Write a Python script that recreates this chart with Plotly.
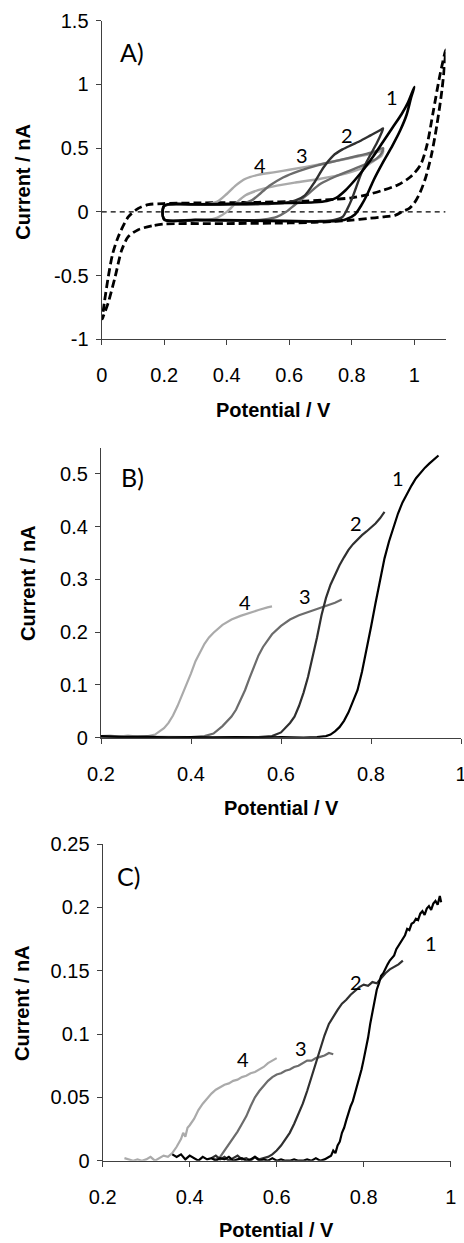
import plotly.graph_objects as go

W, H = 464, 1243

# ---------------- Panel A data (cyclic voltammograms) ----------------
# background CV (dashed)
bgA_x = [0.20, 0.16, 0.117, 0.085, 0.064, 0.043, 0.02, 0.005, 0.002,
         0.008, 0.021, 0.035, 0.053, 0.085, 0.117, 0.149, 0.197, 0.30, 0.50, 0.65, 0.74,
         0.80, 0.85, 0.90, 0.95, 0.99, 1.02, 1.04, 1.06, 1.08, 1.095, 1.10,
         1.098, 1.088, 1.072, 1.055, 1.035, 1.018, 1.00, 0.985, 0.96, 0.94, 0.90,
         0.85, 0.80, 0.74, 0.68, 0.60, 0.40, 0.20]
bgA_y = [-0.095, -0.11, -0.14, -0.195, -0.30, -0.51, -0.72, -0.82, -0.84,
         -0.72, -0.51, -0.33, -0.195, -0.04, 0.027, 0.057, 0.065, 0.07, 0.075, 0.085, 0.098,
         0.11, 0.135, 0.17, 0.215, 0.28, 0.37, 0.52, 0.78, 1.05, 1.22, 1.27,
         1.19, 0.95, 0.68, 0.45, 0.26, 0.15, 0.07, 0.03, 0.0, -0.025, -0.04,
         -0.052, -0.065, -0.076, -0.082, -0.087, -0.092, -0.095]
zeroA_x = [0.0, 1.1]
zeroA_y = [0.0, 0.0]

# loop 1 (black)
cv1_x = [0.20, 0.30, 0.45, 0.60, 0.68, 0.72, 0.75, 0.78, 0.81, 0.84, 0.87, 0.90, 0.93, 0.96, 0.98, 1.00,
         0.99, 0.975, 0.955, 0.93, 0.90, 0.87, 0.85, 0.83, 0.81, 0.78, 0.75, 0.70, 0.60, 0.45, 0.30, 0.20, 0.20]
cv1_y = [0.05, 0.06, 0.065, 0.07, 0.075, 0.085, 0.11, 0.17, 0.25, 0.34, 0.44, 0.55, 0.66, 0.77, 0.86, 0.98,
         0.90, 0.76, 0.64, 0.52, 0.39, 0.25, 0.14, 0.05, -0.02, -0.06, -0.072, -0.076, -0.074, -0.068, -0.064, -0.06, 0.05]
# loop 2 (dark grey)
cv2_x = [0.20, 0.35, 0.50, 0.58, 0.62, 0.65, 0.68, 0.71, 0.74, 0.77, 0.80, 0.83, 0.86, 0.89, 0.90,
         0.895, 0.88, 0.86, 0.845, 0.83, 0.815, 0.80, 0.785, 0.77, 0.74, 0.70, 0.60, 0.45, 0.30, 0.20, 0.20]
cv2_y = [0.045, 0.055, 0.06, 0.07, 0.09, 0.13, 0.23, 0.35, 0.44, 0.49, 0.525, 0.56, 0.60, 0.64, 0.655,
         0.62, 0.54, 0.45, 0.38, 0.30, 0.20, 0.10, 0.02, -0.04, -0.065, -0.072, -0.07, -0.066, -0.062, -0.058, 0.045]
# loop 3 (grey)
cv3_x = [0.20, 0.30, 0.40, 0.45, 0.48, 0.51, 0.54, 0.58, 0.63, 0.69, 0.75, 0.82, 0.87, 0.90,
         0.895, 0.88, 0.85, 0.80, 0.75, 0.70, 0.66, 0.62, 0.59, 0.56, 0.52, 0.45, 0.30, 0.20, 0.20]
cv3_y = [0.045, 0.055, 0.06, 0.065, 0.09, 0.15, 0.21, 0.27, 0.32, 0.365, 0.40, 0.44, 0.47, 0.50,
         0.46, 0.42, 0.38, 0.33, 0.28, 0.22, 0.14, 0.06, 0.0, -0.04, -0.06, -0.068, -0.065, -0.06, 0.045]
# loop 4 (light grey)
cv4_x = [0.20, 0.30, 0.34, 0.37, 0.40, 0.43, 0.46, 0.50, 0.55, 0.60, 0.70, 0.80, 0.87, 0.90,
         0.895, 0.87, 0.84, 0.78, 0.70, 0.62, 0.55, 0.50, 0.46, 0.43, 0.40, 0.37, 0.33, 0.25, 0.20, 0.20]
cv4_y = [0.045, 0.055, 0.06, 0.08, 0.14, 0.21, 0.26, 0.29, 0.31, 0.33, 0.375, 0.425, 0.46, 0.48,
         0.44, 0.40, 0.35, 0.30, 0.26, 0.23, 0.20, 0.17, 0.13, 0.07, 0.0, -0.045, -0.065, -0.07, -0.065, 0.045]

# ---------------- Panel B data ----------------
lsvB1_x = [0.20, 0.25, 0.30, 0.35, 0.40, 0.45, 0.50, 0.55, 0.60, 0.65, 0.68, 0.70, 0.71, 0.72, 0.73, 0.74,
           0.75, 0.76, 0.77, 0.78, 0.79, 0.80, 0.81, 0.82, 0.83, 0.84, 0.85, 0.86, 0.87, 0.88, 0.89,
           0.90, 0.91, 0.92, 0.93, 0.94, 0.95]
lsvB1_y = [0.003, 0.001, 0.002, 0.0, 0.001, 0.0, 0.001, 0.0, 0.001, 0.0, 0.001, 0.003, 0.006, 0.012, 0.020, 0.032,
           0.048, 0.068, 0.09, 0.125, 0.165, 0.21, 0.255, 0.300, 0.340, 0.372, 0.400, 0.425, 0.446, 0.463, 0.478,
           0.492, 0.503, 0.512, 0.520, 0.527, 0.535]
lsvB2_x = [0.20, 0.30, 0.40, 0.50, 0.55, 0.58, 0.60, 0.62, 0.63, 0.64, 0.65, 0.66, 0.67, 0.68, 0.69, 0.70,
           0.71, 0.72, 0.73, 0.74, 0.75, 0.76, 0.77, 0.78, 0.79, 0.80, 0.81, 0.82, 0.83]
lsvB2_y = [0.002, 0.001, 0.0, 0.001, 0.001, 0.003, 0.010, 0.028, 0.040, 0.060, 0.085, 0.115, 0.150, 0.190, 0.232, 0.265,
           0.290, 0.310, 0.327, 0.342, 0.356, 0.367, 0.376, 0.384, 0.391, 0.398, 0.406, 0.416, 0.428]
lsvB3_x = [0.20, 0.30, 0.40, 0.43, 0.45, 0.47, 0.49, 0.50, 0.51, 0.52, 0.53, 0.54, 0.55, 0.56, 0.57, 0.58,
           0.60, 0.62, 0.64, 0.66, 0.68, 0.70, 0.72, 0.735]
lsvB3_y = [0.002, 0.001, 0.001, 0.003, 0.008, 0.022, 0.040, 0.053, 0.070, 0.090, 0.113, 0.136, 0.156, 0.172, 0.185, 0.196,
           0.212, 0.224, 0.232, 0.238, 0.243, 0.249, 0.256, 0.262]
lsvB4_x = [0.20, 0.22, 0.24, 0.26, 0.28, 0.30, 0.32, 0.34, 0.35, 0.36, 0.37, 0.38, 0.39, 0.40, 0.41, 0.42,
           0.43, 0.44, 0.45, 0.47, 0.49, 0.51, 0.53, 0.55, 0.57, 0.58]
lsvB4_y = [0.003, 0.004, 0.002, 0.004, 0.002, 0.002, 0.006, 0.018, 0.028, 0.042, 0.060, 0.080, 0.100, 0.122, 0.145, 0.163,
           0.178, 0.190, 0.199, 0.214, 0.224, 0.231, 0.237, 0.242, 0.247, 0.249]

# ---------------- Panel C data ----------------
lsvC1_x = [0.36, 0.37, 0.38, 0.39, 0.40, 0.41, 0.42, 0.43, 0.44, 0.45, 0.46, 0.47, 0.48, 0.49, 0.50, 0.51,
           0.52, 0.53, 0.54, 0.55, 0.56, 0.57, 0.58, 0.59, 0.60, 0.61, 0.62, 0.63, 0.64, 0.65, 0.66, 0.67,
           0.68, 0.69, 0.70, 0.71, 0.72, 0.725, 0.73, 0.735, 0.74, 0.745, 0.75, 0.755, 0.76, 0.765, 0.77,
           0.775, 0.78, 0.785, 0.79, 0.795, 0.80, 0.805, 0.81, 0.815, 0.82, 0.825, 0.83, 0.835, 0.84, 0.845,
           0.85, 0.855, 0.86, 0.87, 0.875, 0.88, 0.885, 0.89, 0.895, 0.90, 0.905, 0.91, 0.915, 0.92, 0.925,
           0.93, 0.935, 0.94, 0.945, 0.95, 0.955, 0.96, 0.965, 0.97, 0.975, 0.978]
lsvC1_y = [0.005, 0.003, 0.005, 0.001, 0.004, 0.002, 0.0, 0.003, 0.001, 0.002, 0.0, 0.002, 0.001, 0.003, 0.0, 0.001,
           0.002, 0.0, 0.001, 0.003, 0.0, 0.001, 0.0, 0.002, 0.0, 0.001, 0.0, 0.0, 0.001, 0.0, 0.0, 0.001,
           0.0, 0.002, 0.0, 0.001, 0.003, 0.004, 0.008, 0.006, 0.012, 0.015, 0.022, 0.026, 0.032, 0.038, 0.043,
           0.047, 0.053, 0.058, 0.064, 0.072, 0.080, 0.088, 0.097, 0.108, 0.118, 0.127, 0.135, 0.140, 0.146, 0.148,
           0.152, 0.155, 0.158, 0.162, 0.167, 0.170, 0.172, 0.176, 0.178, 0.183, 0.182, 0.187, 0.188, 0.191, 0.190,
           0.195, 0.197, 0.194, 0.199, 0.201, 0.198, 0.203, 0.205, 0.202, 0.209, 0.204]
lsvC2_x = [0.45, 0.46, 0.47, 0.48, 0.49, 0.50, 0.51, 0.52, 0.53, 0.54, 0.55, 0.56, 0.57, 0.58, 0.59, 0.60,
           0.61, 0.62, 0.63, 0.64, 0.65, 0.66, 0.67, 0.68, 0.69, 0.70, 0.71, 0.72, 0.73, 0.74, 0.75, 0.76,
           0.77, 0.78, 0.79, 0.80, 0.81, 0.82, 0.83, 0.84, 0.85, 0.86, 0.87, 0.88, 0.89]
lsvC2_y = [0.002, 0.004, 0.001, 0.003, 0.0, 0.002, 0.004, 0.001, 0.002, 0.0, 0.003, 0.001, 0.002, 0.003, 0.005, 0.008,
           0.012, 0.017, 0.022, 0.029, 0.037, 0.045, 0.055, 0.066, 0.077, 0.088, 0.099, 0.108, 0.114, 0.119, 0.124, 0.127,
           0.131, 0.134, 0.137, 0.139, 0.138, 0.141, 0.140, 0.144, 0.148, 0.151, 0.153, 0.155, 0.158]
lsvC3_x = [0.45, 0.46, 0.47, 0.48, 0.49, 0.50, 0.51, 0.52, 0.53, 0.54, 0.55, 0.56, 0.57, 0.58, 0.59, 0.60,
           0.61, 0.62, 0.63, 0.64, 0.65, 0.66, 0.67, 0.68, 0.69, 0.70, 0.71, 0.72, 0.73]
lsvC3_y = [0.002, 0.001, 0.003, 0.008, 0.012, 0.017, 0.023, 0.029, 0.035, 0.043, 0.050, 0.055, 0.059, 0.063, 0.066, 0.068,
           0.069, 0.071, 0.072, 0.074, 0.075, 0.077, 0.079, 0.079, 0.081, 0.082, 0.083, 0.085, 0.084]
lsvC4_x = [0.25, 0.26, 0.27, 0.28, 0.29, 0.30, 0.31, 0.32, 0.33, 0.34, 0.35, 0.36, 0.37, 0.38, 0.385, 0.39,
           0.395, 0.40, 0.41, 0.42, 0.43, 0.44, 0.45, 0.46, 0.47, 0.48, 0.49, 0.50, 0.51, 0.52, 0.53, 0.54,
           0.55, 0.56, 0.57, 0.58, 0.59, 0.60]
lsvC4_y = [0.002, 0.001, 0.0, 0.001, 0.0, 0.001, 0.003, 0.0, 0.002, 0.004, 0.003, 0.006, 0.011, 0.017, 0.022, 0.019,
           0.026, 0.028, 0.033, 0.040, 0.045, 0.049, 0.053, 0.056, 0.058, 0.060, 0.061, 0.063, 0.064, 0.066, 0.067, 0.069,
           0.070, 0.072, 0.074, 0.077, 0.079, 0.081]

# ---------------- ticks ----------------
A_xticks = [0, 0.2, 0.4, 0.6, 0.8, 1.0]
A_xlabels = ["0", "0.2", "0.4", "0.6", "0.8", "1"]
A_yticks = [-1, -0.5, 0, 0.5, 1, 1.5]
A_ylabels = ["-1", "-0.5", "0", "0.5", "1", "1.5"]
BC_xticks = [0.2, 0.4, 0.6, 0.8, 1.0]
BC_xlabels = ["0.2", "0.4", "0.6", "0.8", "1"]
B_yticks = [0, 0.1, 0.2, 0.3, 0.4, 0.5]
B_ylabels = ["0", "0.1", "0.2", "0.3", "0.4", "0.5"]
C_yticks = [0, 0.05, 0.1, 0.15, 0.2, 0.25]
C_ylabels = ["0", "0.05", "0.1", "0.15", "0.2", "0.25"]

COL = ["#000000", "#303030", "#6c6c6c", "#aaaaaa"]

fig = go.Figure()

def add(x, y, color, width, xa, ya, dash="solid", shape="linear"):
    fig.add_trace(go.Scatter(x=x, y=y, mode="lines", xaxis=xa, yaxis=ya, showlegend=False,
                             hoverinfo="skip",
                             line=dict(color=color, width=width, dash=dash, shape=shape, smoothing=0.8)))

# Panel A
add(zeroA_x, zeroA_y, "#000000", 1.2, "x", "y", dash="5px,4px")
add(bgA_x, bgA_y, "#000000", 2.8, "x", "y", dash="8px,4px", shape="spline")
add(cv4_x, cv4_y, COL[3], 2.4, "x", "y", shape="spline")
add(cv3_x, cv3_y, COL[2], 2.4, "x", "y", shape="spline")
add(cv2_x, cv2_y, COL[1], 2.4, "x", "y", shape="spline")
add(cv1_x, cv1_y, COL[0], 2.6, "x", "y", shape="spline")
# Panel B
add(lsvB4_x, lsvB4_y, COL[3], 2.2, "x2", "y2")
add(lsvB3_x, lsvB3_y, COL[2], 2.2, "x2", "y2")
add(lsvB2_x, lsvB2_y, COL[1], 2.2, "x2", "y2")
add(lsvB1_x, lsvB1_y, COL[0], 2.2, "x2", "y2")
# Panel C
add(lsvC4_x, lsvC4_y, COL[3], 2.2, "x3", "y3")
add(lsvC3_x, lsvC3_y, COL[2], 2.2, "x3", "y3")
add(lsvC2_x, lsvC2_y, COL[1], 2.2, "x3", "y3")
add(lsvC1_x, lsvC1_y, COL[0], 2.2, "x3", "y3")

AX = "#404040"
TICKFONT = dict(family="Liberation Sans, Arial, sans-serif", size=20, color="#000000")

def xax(domain, rng, vals, labels, anchor):
    return dict(domain=domain, range=rng, tickvals=vals, ticktext=labels, anchor=anchor,
                automargin=False, ticklabeloverflow="allow",
                showline=True, linecolor=AX, linewidth=1.3, ticks="outside", ticklen=5,
                tickwidth=1.3, tickcolor=AX, showgrid=False, zeroline=False,
                tickfont=TICKFONT, ticklabelstandoff=13, fixedrange=True)

def yax(domain, rng, vals, labels, anchor):
    return dict(domain=domain, range=rng, tickvals=vals, ticktext=labels, anchor=anchor,
                automargin=False,
                showline=True, linecolor=AX, linewidth=1.3, ticks="outside", ticklen=5,
                tickwidth=1.3, tickcolor=AX, showgrid=False, zeroline=False,
                tickfont=TICKFONT, ticklabelstandoff=3, fixedrange=True)

def px_x(p):
    return p / W

def px_y(p):
    return 1 - p / H

fig.update_layout(
    template="none",
    width=W, height=H, margin=dict(l=0, r=0, t=0, b=0, pad=0, autoexpand=False),
    paper_bgcolor="white", plot_bgcolor="white",
    xaxis=xax([px_x(101.7), px_x(445.6)], [0, 1.1], A_xticks, A_xlabels, "y"),
    yaxis=yax([px_y(339.3), px_y(20.7)], [-1, 1.5], A_yticks, A_ylabels, "x"),
    xaxis2=xax([px_x(101), px_x(461)], [0.2, 1.0], BC_xticks, BC_xlabels, "y2"),
    yaxis2=yax([px_y(737.7), px_y(447.6)], [0, 0.55], B_yticks, B_ylabels, "x2"),
    xaxis3=xax([px_x(102.7), px_x(450.7)], [0.2, 1.0], BC_xticks, BC_xlabels, "y3"),
    yaxis3=yax([px_y(1160.7), px_y(844)], [0, 0.25], C_yticks, C_ylabels, "x3"),
)

TITLEFONT = dict(family="Liberation Sans, Arial, sans-serif", size=20, color="#000000")
LABFONT = dict(family="Lato, Open Sans, sans-serif", size=25, color="#000000")
NUMFONT = dict(family="Lato, Open Sans, sans-serif", size=20, color="#000000")

ann = []
# axis titles
for (cx, cy) in [(273.7, 410), (281, 808), (276.7, 1230)]:
    ann.append(dict(text="<b>Potential / V</b>", x=px_x(cx), y=px_y(cy), xref="paper", yref="paper",
                    xanchor="center", yanchor="middle", showarrow=False, font=TITLEFONT))
for (cx, cy) in [(23, 181.7), (28, 583), (22, 1003)]:
    ann.append(dict(text="<b>Current / nA</b>", x=px_x(cx), y=px_y(cy), xref="paper", yref="paper",
                    xanchor="center", yanchor="middle", showarrow=False, textangle=-90, font=TITLEFONT))
# panel letters
ann.append(dict(text="A)", x=0.096, y=1.254, xref="x", yref="y", showarrow=False, font=LABFONT))
ann.append(dict(text="B)", x=0.270, y=0.494, xref="x2", yref="y2", showarrow=False, font=LABFONT))
ann.append(dict(text="C)", x=0.260, y=0.2246, xref="x3", yref="y3", showarrow=False, font=LABFONT))
# curve numbers
labels_A = [("1", 0.928, 0.90), ("2", 0.784, 0.60), ("3", 0.640, 0.446), ("4", 0.506, 0.367)]
labels_B = [("1", 0.861, 0.492), ("2", 0.767, 0.408), ("3", 0.653, 0.268), ("4", 0.520, 0.258)]
labels_C = [("1", 0.955, 0.172), ("2", 0.782, 0.141), ("3", 0.657, 0.0887), ("4", 0.522, 0.080)]
for lst, xr, yr in [(labels_A, "x", "y"), (labels_B, "x2", "y2"), (labels_C, "x3", "y3")]:
    for t, xv, yv in lst:
        ann.append(dict(text=t, x=xv, y=yv, xref=xr, yref=yr, showarrow=False, font=NUMFONT))

fig.update_layout(annotations=ann)
fig.write_html("out.html", config={"displayModeBar": False},
               post_script="document.body.style.margin='0';document.body.style.overflow='hidden';")
